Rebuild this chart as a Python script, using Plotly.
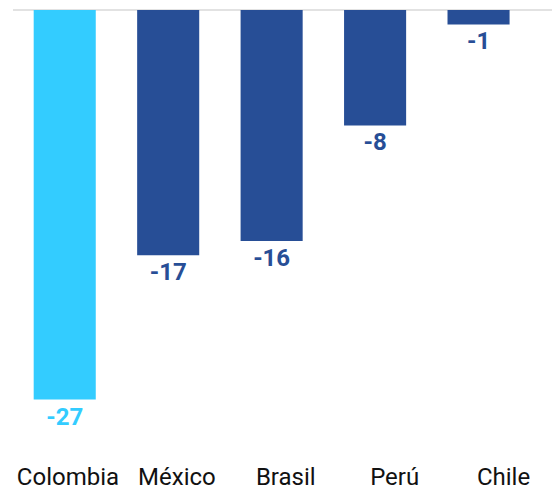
import plotly.graph_objects as go

# Country variation values
countries = ["Colombia", "México", "Brasil", "Perú", "Chile"]
values = [-27, -17, -16, -8, -1]
bar_colors = ["#33CCFF", "#274E96", "#274E96", "#274E96", "#274E96"]
labels = [str(v) for v in values]

fig = go.Figure()

fig.add_trace(
    go.Bar(
        x=countries,
        y=values,
        marker=dict(color=bar_colors, line=dict(width=0)),
        width=0.6,
        text=labels,
        textposition="outside",
        cliponaxis=False,
        textfont=dict(family="Roboto", size=24, color=bar_colors, weight="bold"),
        hoverinfo="skip",
    )
)

# Category names sit on their own, slightly wider-spaced axis
fig.add_trace(
    go.Scatter(
        x=countries,
        y=[None] * len(countries),
        xaxis="x2",
        mode="markers",
        marker=dict(opacity=0),
        hoverinfo="skip",
        showlegend=False,
    )
)

fig.update_layout(
    width=552,
    height=489,
    margin=dict(l=13, r=0, t=10, b=36, autoexpand=False),
    paper_bgcolor="white",
    plot_bgcolor="white",
    showlegend=False,
    font=dict(family="Roboto"),
    xaxis=dict(
        range=[-0.5, 4.71],
        showgrid=False,
        showline=False,
        showticklabels=False,
        ticks="",
        automargin=False,
    ),
    xaxis2=dict(
        overlaying="x",
        side="bottom",
        anchor="y",
        type="category",
        range=[-0.505, 4.445],
        showgrid=False,
        showline=False,
        ticks="",
        tickfont=dict(family="Roboto", size=24, color="#111111"),
        ticklabelstandoff=7,
        automargin=False,
    ),
    yaxis=dict(
        range=[-30.7, 0],
        showgrid=False,
        showticklabels=False,
        zeroline=True,
        zerolinecolor="#e2e2e2",
        zerolinewidth=2,
        automargin=False,
    ),
)

fig.write_html("out.html")
